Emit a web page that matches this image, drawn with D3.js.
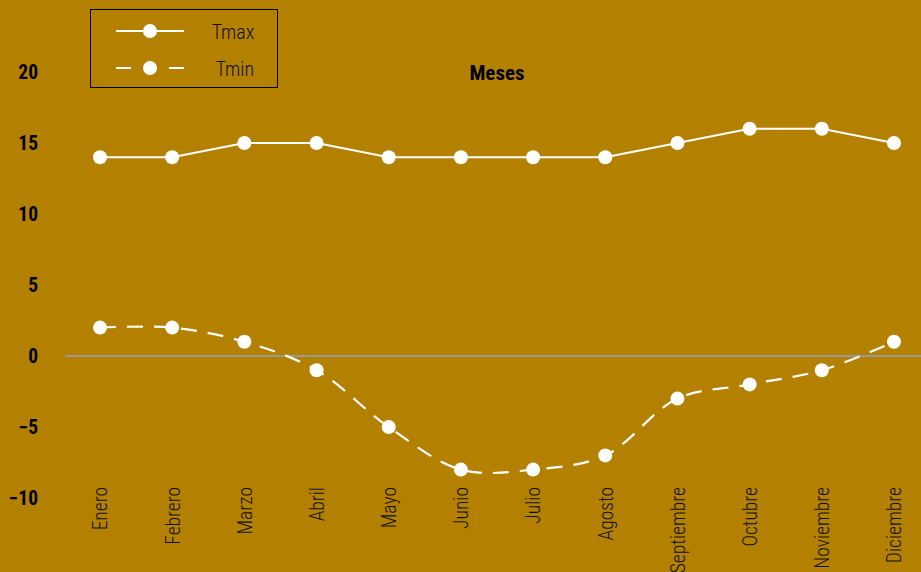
<!DOCTYPE html>
<html><head><meta charset="utf-8">
<script src="https://cdn.jsdelivr.net/npm/d3@7"></script>
<style>
html,body{margin:0;padding:0;background:#B38000;}
text{font-family:"Liberation Sans Narrow","Arial Narrow","Roboto Condensed",sans-serif;}
</style></head>
<body><svg id="c" width="921" height="572"></svg>
<script>
const months = ["Enero","Febrero","Marzo","Abril","Mayo","Junio","Julio","Agosto","Septiembre","Octubre","Noviembre","Diciembre"];
const tmax = [14,14,15,15,14,14,14,14,15,16,16,15];
const tmin = [2,2,1,-1,-5,-8,-8,-7,-3,-2,-1,1];
const yTicks = [20,15,10,5,0,-5,-10];

const svg = d3.select("#c");
svg.append("rect").attr("width",921).attr("height",572).attr("fill","#B38000");

const x = d3.scalePoint().domain(months).range([100,894]);
const y = d3.scaleLinear().domain([-10,20]).range([498,72]);

const yAxis = d3.axisLeft(y).tickValues(yTicks).tickSize(0).tickPadding(0).tickFormat(d3.format("d"));
const ya = svg.append("g").attr("transform","translate(38,0)").call(yAxis);
ya.select(".domain").remove();
ya.selectAll("text").attr("font-size",19.5).attr("font-weight","bold").attr("fill","#000")
  .attr("font-family",'"Liberation Sans Narrow","Arial Narrow","Roboto Condensed",sans-serif').attr("dy","0.35em");

svg.append("line").attr("x1",65).attr("x2",921).attr("y1",y(0)).attr("y2",y(0))
  .attr("stroke","#999").attr("stroke-width",2);

const xAxis = d3.axisBottom(x).tickSize(0).tickPadding(0);
const xa = svg.append("g").attr("transform","translate(0,487)").call(xAxis);
xa.select(".domain").remove();
xa.selectAll("text").attr("font-size",19.5).attr("fill","#111").attr("font-weight",300)
  .attr("font-family",'"Liberation Sans Narrow","Arial Narrow","Roboto Condensed",sans-serif')
  .attr("text-anchor","end").attr("dy","0.35em").attr("dx",0).attr("y",0)
  .attr("transform","rotate(-90)");

svg.append("text").attr("x",497).attr("y",73).attr("dy","0.35em").attr("text-anchor","middle")
  .attr("font-size",21).attr("font-weight","bold").attr("fill","#000").text("Meses");

const lmax = d3.line().x((d,i)=>x(months[i])).y(d=>y(d));
const lmin = d3.line().x((d,i)=>x(months[i])).y(d=>y(d)).curve(d3.curveCatmullRom);
svg.append("path").attr("d",lmax(tmax)).attr("fill","none").attr("stroke","#fff").attr("stroke-width",2);
svg.append("path").attr("d",lmin(tmin)).attr("fill","none").attr("stroke","#fff").attr("stroke-width",2.2)
  .attr("stroke-dasharray","16,11");
svg.selectAll(".pmax").data(tmax).enter().append("circle")
  .attr("cx",(d,i)=>x(months[i])).attr("cy",d=>y(d)).attr("r",7).attr("fill","#fff");
svg.selectAll(".pmin").data(tmin).enter().append("circle")
  .attr("cx",(d,i)=>x(months[i])).attr("cy",d=>y(d)).attr("r",7).attr("fill","#fff");

const lg = svg.append("g");
lg.append("rect").attr("x",90.5).attr("y",9.5).attr("width",187).attr("height",78)
  .attr("fill","none").attr("stroke","#000").attr("stroke-width",1);
lg.append("line").attr("x1",116).attr("x2",184).attr("y1",31).attr("y2",31).attr("stroke","#fff").attr("stroke-width",2);
lg.append("circle").attr("cx",150).attr("cy",31).attr("r",7).attr("fill","#fff");
lg.append("line").attr("x1",116).attr("x2",131).attr("y1",68).attr("y2",68).attr("stroke","#fff").attr("stroke-width",2);
lg.append("line").attr("x1",169).attr("x2",184).attr("y1",68).attr("y2",68).attr("stroke","#fff").attr("stroke-width",2);
lg.append("circle").attr("cx",150).attr("cy",68).attr("r",7).attr("fill","#fff");
lg.append("text").attr("x",233).attr("y",32).attr("dy","0.35em").attr("text-anchor","middle")
  .attr("font-size",20).attr("font-weight",300).attr("fill","#111").text("Tmax");
lg.append("text").attr("x",235).attr("y",69).attr("dy","0.35em").attr("text-anchor","middle")
  .attr("font-size",20).attr("font-weight",300).attr("fill","#111").text("Tmin");
</script></body></html>
